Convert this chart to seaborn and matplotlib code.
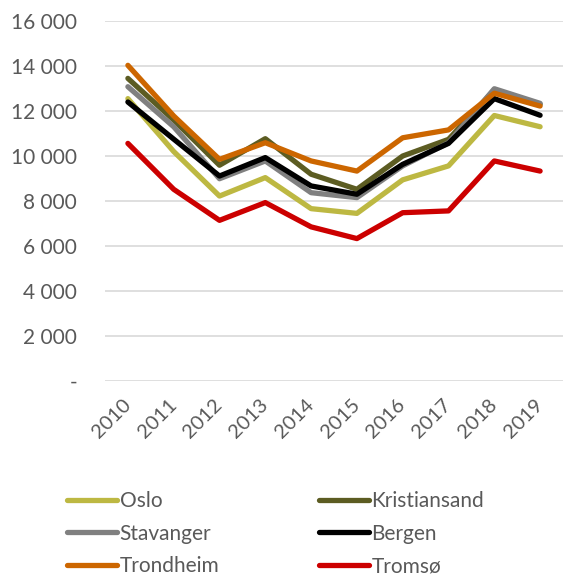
import pandas as pd
import matplotlib.pyplot as plt
import matplotlib.ticker as mticker
import seaborn as sns
import numpy as np

years = [2010, 2011, 2012, 2013, 2014, 2015, 2016, 2017, 2018, 2019]
cities = ['Oslo', 'Kristiansand', 'Stavanger', 'Bergen', 'Trondheim', 'Tromsø']
oslo = [12550, 10200, 8220, 9040, 7660, 7450, 8940, 9560, 11800, 11300]
kristiansand = [13450, 11600, 9590, 10770, 9190, 8520, 10000, 10740, 12930, 12300]
stavanger = [13080, 11300, 8990, 9780, 8370, 8150, 9560, 10590, 12990, 12340]
bergen = [12400, 10750, 9110, 9930, 8670, 8300, 9630, 10560, 12550, 11810]
trondheim = [14030, 11780, 9850, 10590, 9780, 9330, 10810, 11160, 12790, 12220]
tromso = [10560, 8520, 7140, 7930, 6850, 6330, 7480, 7560, 9780, 9330]
colors = ['#BDB842', '#5C5C22', '#808080', '#000000', '#CC6600', '#CC0000']

df = pd.DataFrame({'year': [str(y) for y in years] * 6,
                   'by': np.repeat(cities, len(years)),
                   'value': oslo + kristiansand + stavanger + bergen + trondheim + tromso})

sns.set_style('white')
plt.rcParams['font.family'] = ['Lato', 'DejaVu Sans']
grey = '#595959'

fig = plt.figure(figsize=(5.63, 5.77), dpi=100)
ax = fig.add_axes([0.1865, 0.3397, 0.8135, 0.6239])
ax = sns.lineplot(data=df, x='year', y='value', hue='by', palette=colors,
                  linewidth=3.8, sort=False, ax=ax)
ax.set_xlim(-0.5, 9.5)
ax.set_ylim(0, 16000)
ax.set_yticks(np.arange(0, 16001, 2000))
ax.yaxis.set_major_formatter(mticker.FuncFormatter(
    lambda v, p: '-' if v == 0 else f'{int(v):,}'.replace(',', ' ')))
ax.grid(axis='y', color='#d9d9d9', linewidth=1.2)
ax.set_axisbelow(True)
for s in ax.spines.values():
    s.set_visible(False)
ax.tick_params(axis='y', length=0, pad=20, labelsize=15, colors=grey)
ax.tick_params(axis='x', length=0, pad=15, labelsize=14.5, colors=grey)
plt.setp(ax.get_xticklabels(), rotation=45, ha='right', va='center',
         rotation_mode='anchor')
ax.set_xlabel('')
ax.set_ylabel('')

h, l = ax.get_legend_handles_labels()
ax.get_legend().remove()
order = [0, 2, 4, 1, 3, 5]
fig.legend([h[i] for i in order], [l[i] for i in order], ncol=2,
           loc='upper left', bbox_to_anchor=(0.105, 0.163), frameon=False,
           fontsize=15, labelcolor=grey, handlelength=2.4, handletextpad=0.1,
           columnspacing=4.8, labelspacing=0.6, borderaxespad=0)

plt.savefig('out.png', dpi=100)
